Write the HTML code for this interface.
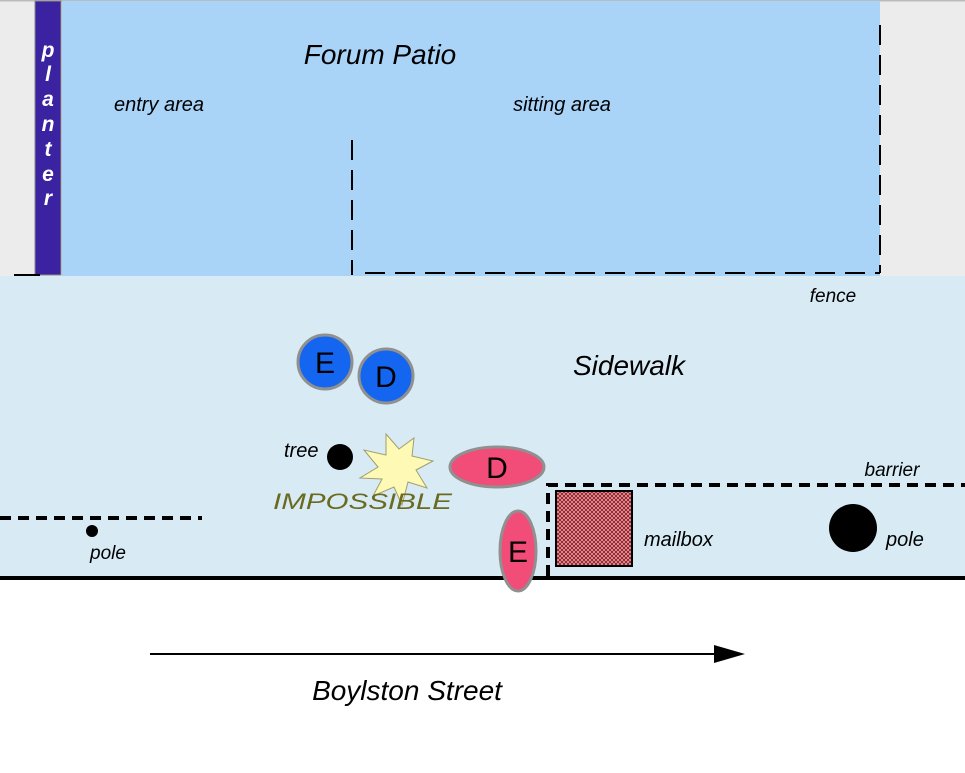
<!DOCTYPE html>
<html><head><meta charset="utf-8"><style>body{margin:0;background:#fff}svg{display:block}text{font-family:"Liberation Sans",sans-serif}</style></head><body>
<svg width="965" height="773" viewBox="0 0 965 773" xmlns="http://www.w3.org/2000/svg">
<defs><pattern id="h" width="4" height="4" patternUnits="userSpaceOnUse"><rect width="4" height="4" fill="#e8c8cc"/><path d="M0 0L4 4M4 0L0 4" stroke="#a0242c" stroke-width="1.2"/></pattern></defs>
<rect x="0" y="0" width="965" height="276" fill="#ececec"/>
<rect x="0" y="0" width="965" height="1.5" fill="#bbb"/>
<rect x="62" y="1" width="818" height="275" fill="#a9d4f8"/>
<rect x="35" y="1" width="26" height="274" fill="#3a22a0" stroke="#888" stroke-width="1"/>
<g fill="#fff" font-weight="bold" font-style="italic" font-size="21" text-anchor="middle">
<text x="48" y="57">p</text><text x="48" y="81">l</text><text x="48" y="106">a</text><text x="48" y="131">n</text><text x="48" y="156">t</text><text x="48" y="181">e</text><text x="48" y="205">r</text></g>
<rect x="0" y="276" width="965" height="302" fill="#d8ebf5"/>
<rect x="0" y="576" width="965" height="4" fill="#000"/>
<line x1="14" y1="275" x2="40" y2="275" stroke="#000" stroke-width="2"/>
<g stroke="#000" stroke-width="2" fill="none" stroke-dasharray="20,10">
<line x1="352" y1="140" x2="352" y2="275"/>
<line x1="365" y1="273" x2="880" y2="273"/>
<line x1="880" y1="25" x2="880" y2="273"/></g>
<g stroke="#000" stroke-width="4" fill="none" stroke-dasharray="11,7">
<line x1="0" y1="518" x2="202" y2="518"/>
<path d="M548 576V485H965"/></g>
<rect x="556" y="491" width="76" height="75" fill="url(#h)" stroke="#000" stroke-width="2"/>
<text x="380" y="64" font-size="28" font-style="italic" text-anchor="middle">Forum Patio</text>
<text x="159" y="111" font-size="20" font-style="italic" text-anchor="middle">entry area</text>
<text x="562" y="111" font-size="20" font-style="italic" text-anchor="middle">sitting area</text>
<text x="833" y="302" font-size="19" font-style="italic" text-anchor="middle">fence</text>
<text x="629" y="375" font-size="28" font-style="italic" text-anchor="middle">Sidewalk</text>
<text x="892" y="476" font-size="19" font-style="italic" text-anchor="middle">barrier</text>
<text x="644" y="546" font-size="20" font-style="italic">mailbox</text>
<text x="886" y="546" font-size="20" font-style="italic">pole</text>
<text x="90" y="559" font-size="19" font-style="italic">pole</text>
<text x="284" y="457" font-size="20" font-style="italic">tree</text>
<circle cx="92" cy="531" r="6" fill="#000"/>
<circle cx="853" cy="528" r="24" fill="#000"/>
<circle cx="340" cy="457" r="13" fill="#000"/>
<polygon points="414,438 412,456 433,461 416,470 427,488 408,482 402,505 394,487 373,496 382,479 360,478 378,467 364,450 386,455 386,434 399,449" fill="#fef9b4" stroke="#a09e70" stroke-width="1"/>
<text x="273" y="509" font-size="22" font-style="italic" fill="#6a6a20" textLength="179" lengthAdjust="spacingAndGlyphs">IMPOSSIBLE</text>
<g stroke="#909090" stroke-width="3">
<circle cx="325" cy="362" r="27" fill="#1466f0"/>
<circle cx="386" cy="376" r="27" fill="#1466f0"/>
<ellipse cx="497" cy="467" rx="47" ry="20" fill="#f24c78"/>
<ellipse cx="518" cy="551" rx="18" ry="40" fill="#f24c78"/></g>
<g font-size="30" text-anchor="middle">
<text x="325" y="373">E</text><text x="386" y="387">D</text><text x="497" y="478">D</text><text x="518" y="562">E</text></g>
<line x1="150" y1="654" x2="718" y2="654" stroke="#000" stroke-width="2"/>
<polygon points="745,654 714,645 714,663" fill="#000"/>
<text x="407" y="700" font-size="28" font-style="italic" text-anchor="middle">Boylston Street</text>
</svg>
</body></html>
